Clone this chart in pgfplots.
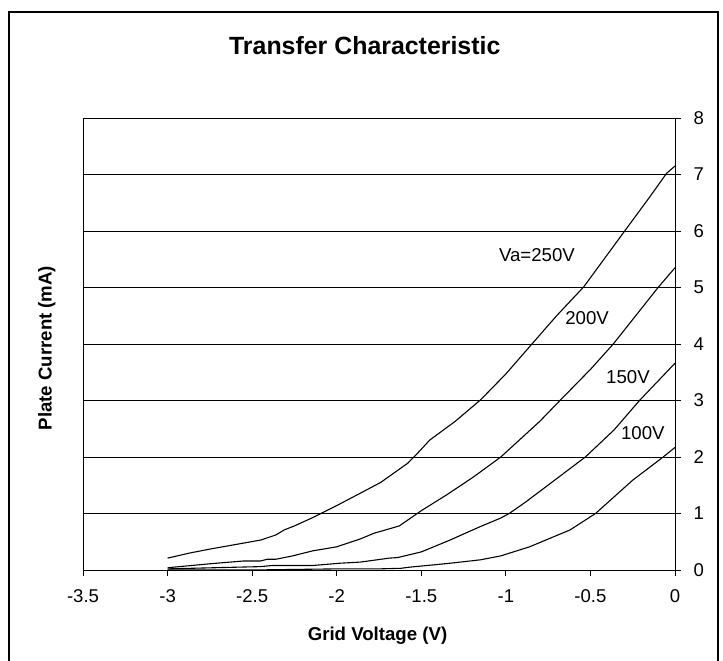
\documentclass[border=0pt]{standalone}
\usepackage{pgfplots}
\pgfplotsset{compat=1.18}
\usepackage{fontspec}
\setmainfont{Liberation Sans}
\begin{document}
\begin{tikzpicture}
% page = 723 x 661 bp, plot area lower-left at origin
\useasboundingbox (-83bp,-91bp) rectangle (640bp,570bp);
\draw[line width=1.2bp] (-74bp,558bp) rectangle (635bp,-100bp);
\begin{axis}[
  at={(0,0)}, anchor=south west,
  scale only axis, width=592bp, height=452bp,
  xmin=-3.5, xmax=0, ymin=0, ymax=8,
  xtick={-3.5,-3,-2.5,-2,-1.5,-1,-0.5,0},
  xticklabels={-3.5,-3,-2.5,-2,-1.5,-1,-0.5,0},
  ytick={0,1,2,3,4,5,6,7,8},
  yticklabels={0,1,2,3,4,5,6,7,8},
  xtick pos=left, ytick pos=right, yticklabel pos=right,
  tick align=outside, major tick length=6bp,
  tick style={black, line width=0.8bp},
  axis line style={black, line width=0.8bp},
  ymajorgrids, major grid style={black, line width=0.8bp},
  ticklabel style={font=\fontsize{18.6}{20}\selectfont},
  xticklabel style={yshift=-10bp},
  yticklabel style={xshift=9bp},
  title={\bfseries Transfer Characteristic},
  title style={font=\fontsize{25}{28}\selectfont, at={(axis description cs:0.476,1.148)}, anchor=center},
  xlabel={\bfseries Grid Voltage (V)},
  ylabel={\bfseries Plate Current (mA)},
  every axis x label/.style={at={(axis description cs:0.4975,-0.146)}, anchor=center, font=\fontsize{18.7}{20}\selectfont},
  every axis y label/.style={at={(axis description cs:-0.061,0.491)}, rotate=90, anchor=center, font=\fontsize{18.7}{20}\selectfont},
]
% Va = 250 V
\addplot[black, line width=1.1bp, mark=none] coordinates {
  (-3,0.21) (-2.87,0.30) (-2.75,0.37) (-2.6,0.45) (-2.45,0.53) (-2.36,0.62)
  (-2.31,0.71) (-2.25,0.78) (-2.14,0.93) (-2,1.14) (-1.86,1.36) (-1.74,1.55)
  (-1.58,1.89) (-1.53,2.04) (-1.45,2.30) (-1.3,2.63) (-1.15,3.01) (-1,3.47)
  (-0.84,4.02) (-0.7,4.5) (-0.54,5.01) (-0.3,5.99) (-0.15,6.6) (-0.05,7.02) (0,7.15)
};
% Va = 200 V
\addplot[black, line width=1.1bp, mark=none] coordinates {
  (-3,0.04) (-2.75,0.11) (-2.55,0.16) (-2.45,0.16) (-2.41,0.19) (-2.36,0.19)
  (-2.26,0.25) (-2.14,0.34) (-2,0.41) (-1.86,0.55) (-1.78,0.65) (-1.63,0.78)
  (-1.5,1.05) (-1.35,1.33) (-1.19,1.65) (-1.03,2.0) (-0.8,2.63) (-0.68,3.0)
  (-0.5,3.55) (-0.365,4.0) (-0.1,5.0) (0,5.35)
};
% Va = 150 V
\addplot[black, line width=1.1bp, mark=none] coordinates {
  (-3,0.02) (-2.45,0.06) (-2.38,0.08) (-2.14,0.08) (-1.98,0.12) (-1.86,0.14)
  (-1.69,0.21) (-1.64,0.22) (-1.5,0.32) (-1.33,0.53) (-1.15,0.77) (-1.03,0.92)
  (-0.98,1.0) (-0.88,1.21) (-0.8,1.39) (-0.53,2.0) (-0.36,2.48) (-0.21,3.0) (0,3.66)
};
% Va = 100 V
\addplot[black, line width=1.1bp, mark=none] coordinates {
  (-3,0) (-2.5,0) (-2,0.02) (-1.75,0.02) (-1.62,0.03) (-1.57,0.05) (-1.43,0.09)
  (-1.33,0.12) (-1.15,0.18) (-1.03,0.25) (-0.86,0.41) (-0.62,0.71) (-0.47,1.0)
  (-0.25,1.59) (-0.07,2.0) (0,2.17)
};
\node[font=\fontsize{18.7}{20}\selectfont] at (axis cs:-0.816,5.575) {Va=250V};
\node[font=\fontsize{18.7}{20}\selectfont] at (axis cs:-0.52,4.46) {200V};
\node[font=\fontsize{18.7}{20}\selectfont] at (axis cs:-0.278,3.42) {150V};
\node[font=\fontsize{18.7}{20}\selectfont] at (axis cs:-0.19,2.42) {100V};
\end{axis}
\end{tikzpicture}
\end{document}
